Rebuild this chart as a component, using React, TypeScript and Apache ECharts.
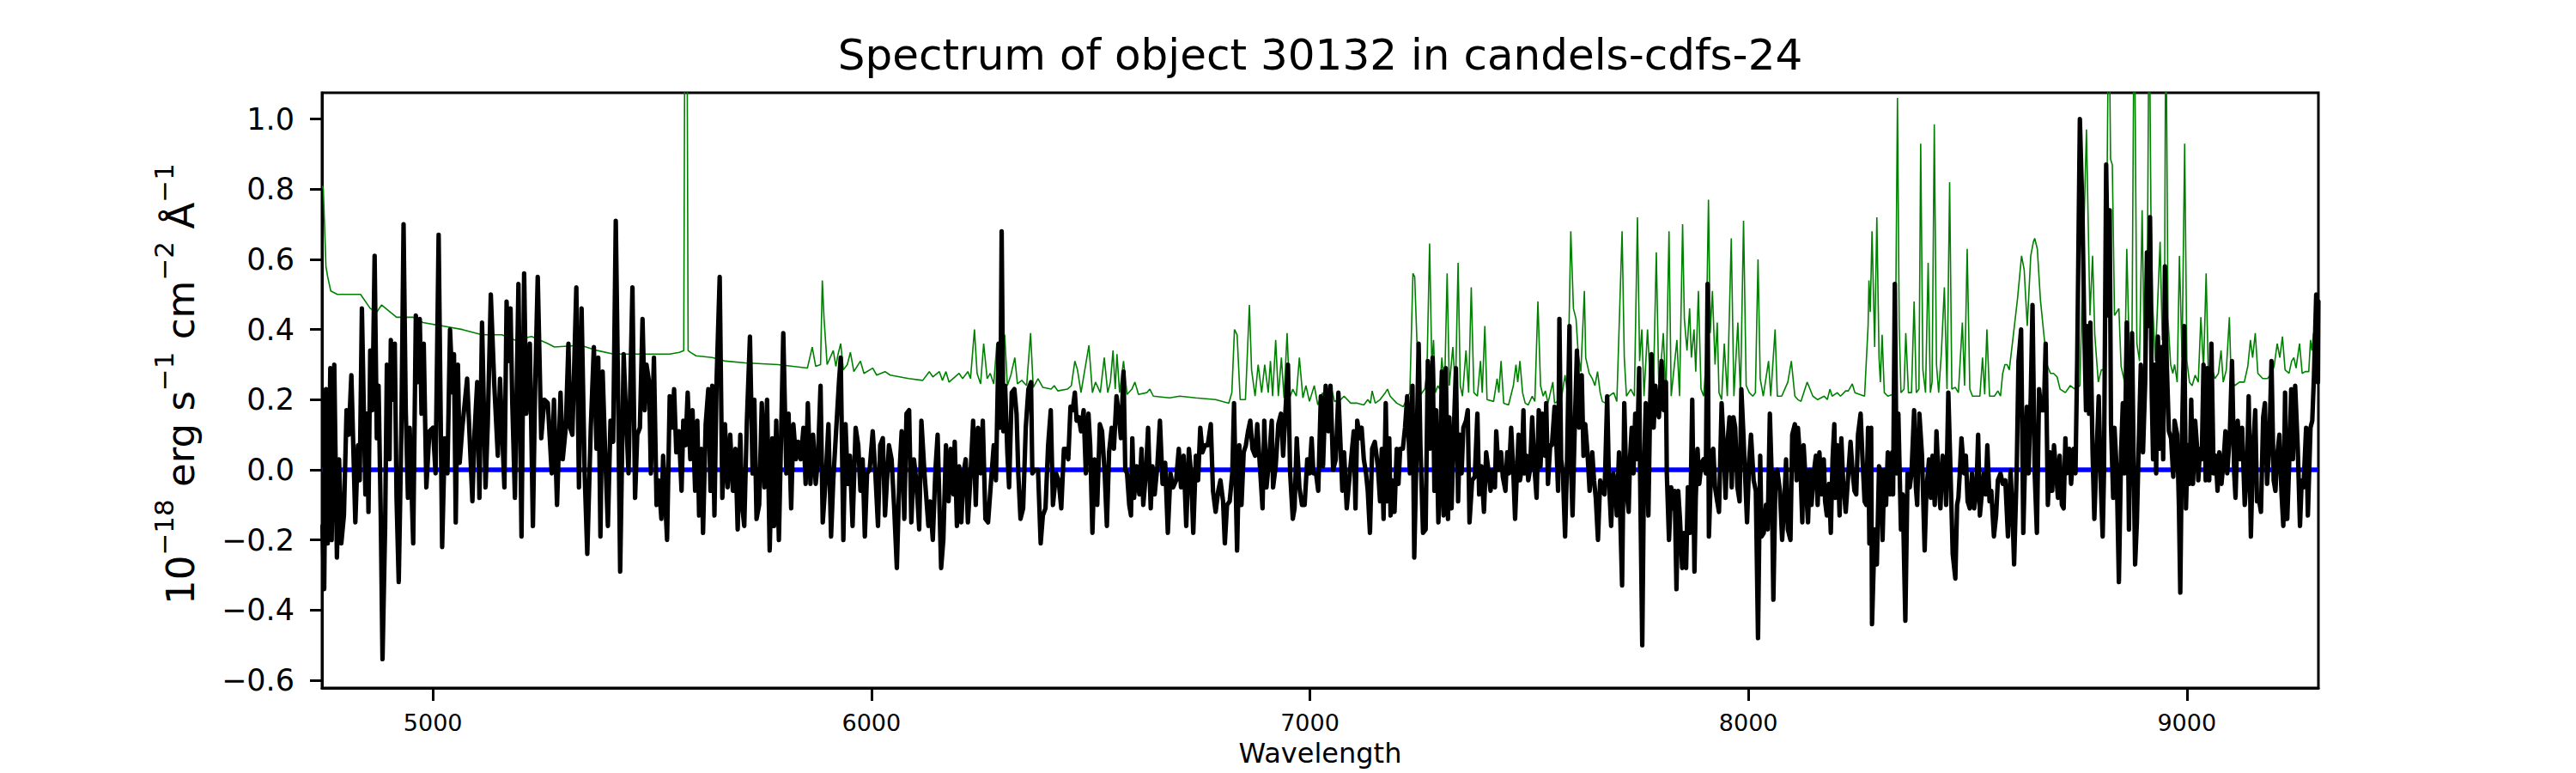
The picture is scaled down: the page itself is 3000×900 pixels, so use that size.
import React, { useEffect, useRef } from "react";
import * as echarts from "echarts";

const TITLE = "Spectrum of object 30132 in candels-cdfs-24";
const X_LABEL = "Wavelength";
const X_MIN = 4747;
const X_MAX = 9300;
const Y_MIN = -0.622;
const Y_MAX = 1.075;
const xTicks = [5000, 6000, 7000, 8000, 9000];
const yTicks = [-0.6, -0.4, -0.2, 0, 0.2, 0.4, 0.6, 0.8, 1.0];

// observed spectrum (black), [wavelength, flux]
const specA: [number, number][] = [[4748,-0.16],[4752,-0.34],[4756,0.23],[4760,-0.21],[4766,0.29],[4769,-0.20],[4775,0.30],[4781,-0.25],[4786,0.03],[4791,-0.21],[4797,-0.13],[4803,0.17],[4808,0.10],[4814,0.27],[4823,-0.15],[4829,0.07],[4833,-0.03],[4838,0.46],[4846,-0.07],[4850,0.16],[4853,-0.12],[4857,0.34],[4862,0.17],[4867,0.61],[4872,0.09],[4876,0.24],[4881,-0.13],[4885,-0.54],[4891,-0.16],[4895,0.30],[4901,0.03],[4904,0.37],[4908,0.20],[4913,0.36],[4917,-0.08],[4922,-0.32],[4928,0.11],[4933,0.70],[4938,0.17],[4943,-0.08],[4947,0.12],[4955,-0.21],[4961,0.44],[4966,0.25],[4970,0.43],[4974,0.16],[4979,0.36],[4985,-0.05],[4992,0.11],[5000,0.12],[5006,-0.01],[5013,0.67],[5021,-0.22],[5027,0.09],[5033,-0.01],[5039,0.40],[5045,0.22],[5048,0.33],[5052,-0.15],[5057,0.30],[5061,0.02],[5067,0.12],[5078,0.26],[5090,-0.09],[5095,0.11],[5101,0.25],[5106,-0.08],[5112,0.42],[5120,-0.05],[5125,0.13],[5132,0.50],[5140,0.24],[5148,0.04],[5153,0.26],[5163,-0.05],[5168,0.48],[5172,0.31],[5177,0.46],[5181,0.19],[5187,-0.08],[5195,0.53],[5202,-0.19],[5208,0.56],[5213,0.16],[5221,0.36],[5228,-0.16],[5233,0.23],[5239,0.55],[5247,0.09],[5254,0.20],[5262,0.19],[5271,-0.01],[5276,0.20],[5283,-0.10],[5291,0.22],[5296,0.03],[5303,0.12],[5309,0.36],[5313,0.12],[5318,0.10],[5327,0.52],[5333,-0.05],[5339,0.46],[5346,-0.01],[5352,-0.24],[5360,0.12],[5367,0.35],[5373,0.06],[5377,0.32],[5382,-0.19],[5387,0.28],[5393,0.04],[5399,-0.16],[5405,0.14],[5411,0.08],[5417,0.71],[5422,0.25],[5427,-0.29],[5435,0.33],[5438,0.23],[5446,-0.01],[5455,0.52],[5461,-0.08],[5466,0.10],[5472,0.12],[5478,0.43],[5483,0.17],[5487,0.30],[5493,0.25],[5497,-0.01],[5504,0.32],[5510,-0.10],[5515,-0.03],[5521,-0.14],[5525,0.04],[5528,-0.04],[5534,-0.20],[5540,0.21],[5546,0.12],[5550,0.23],[5555,0.05],[5561,0.11],[5567,-0.06],[5571,0.14],[5576,0.07],[5581,0.22],[5587,0.03],[5592,0.17],[5598,-0.06],[5603,0.14],[5607,-0.13],[5612,0.06],[5616,-0.18],[5622,0.13],[5628,0.23],[5633,-0.06],[5637,0.24],[5642,-0.13],[5647,0.26],[5654,0.55],[5660,-0.08],[5666,0.13],[5672,-0.05],[5678,0.10],[5684,-0.06],[5690,0.06],[5695,-0.17],[5701,0.10],[5705,-0.10],[5710,-0.16],[5716,0.14],[5723,0.38],[5729,-0.01],[5733,0.20],[5738,-0.14],[5744,-0.10],[5750,0.19],[5756,-0.05],[5762,0.20],[5768,-0.23],[5774,0.09],[5778,-0.16],[5783,0.14],[5789,-0.20],[5799,0.39],[5806,-0.01],[5811,0.16],[5817,-0.11],[5822,0.13],[5828,0.03],[5833,0.08],[5839,0.03],[5845,0.12],[5850,-0.04],[5855,0.19],[5861,-0.04],[5867,0.10],[5873,-0.04],[5878,0.03],[5884,0.24],[5889,-0.15],[5895,-0.04],[5902,0.13],[5908,-0.19]];

const specB: [number, number][] = [[5913,-0.03],[5919,0.10],[5926,0.25],[5930,0.32],[5936,-0.20],[5941,0.13],[5946,-0.04],[5951,0.04],[5957,-0.16],[5964,0.12],[5970,0.07],[5975,-0.06],[5980,0.03],[5985,-0.19],[5990,-0.01],[5996,0.00],[6003,0.11],[6009,-0.01],[6015,-0.16],[6020,0.07],[6026,0.09],[6031,-0.13],[6040,0.07],[6046,0.03],[6052,-0.11],[6058,-0.28],[6064,-0.01],[6069,0.11],[6075,-0.14],[6080,0.16],[6086,0.17],[6091,-0.15],[6097,0.03],[6103,-0.04],[6109,-0.17],[6114,0.14],[6121,-0.01],[6130,-0.16],[6134,-0.09],[6140,-0.20],[6146,0.00],[6151,0.10],[6159,-0.28],[6164,-0.20],[6170,0.07],[6176,-0.09],[6181,0.06],[6187,-0.07],[6190,0.08],[6195,-0.16],[6200,0.01],[6205,-0.15],[6210,-0.01],[6215,0.03],[6220,-0.15],[6225,-0.04],[6232,0.14],[6238,-0.10],[6243,0.12],[6249,-0.01],[6254,0.14],[6260,-0.14],[6266,-0.15],[6273,-0.03],[6279,0.07],[6284,-0.03],[6290,0.36],[6294,0.12],[6297,0.68],[6301,0.11],[6305,0.24],[6310,0.05],[6314,-0.05],[6320,0.22],[6326,0.23],[6331,0.16],[6335,-0.01],[6340,-0.14],[6346,-0.11],[6352,0.12],[6358,0.23],[6364,0.25],[6367,-0.01],[6373,0.00],[6380,0.00],[6386,-0.21],[6391,-0.13],[6397,-0.11],[6403,0.07],[6409,0.17],[6414,-0.10],[6421,-0.01],[6427,-0.03],[6433,-0.11],[6439,0.06],[6444,0.06],[6449,0.03],[6454,0.18],[6459,0.17],[6464,0.22],[6468,0.14],[6473,0.15],[6478,0.11],[6484,0.17],[6489,-0.01],[6495,0.16],[6499,0.07],[6504,-0.18],[6509,0.03],[6515,-0.10],[6521,0.13],[6526,0.11],[6532,-0.01],[6537,-0.16],[6542,0.05],[6548,0.12],[6553,0.06],[6559,0.21],[6564,0.16],[6569,0.09],[6575,0.28],[6579,0.00],[6583,-0.01],[6588,-0.10],[6592,-0.13],[6595,0.09],[6599,-0.08],[6605,0.01],[6611,-0.07],[6616,0.06],[6620,-0.10],[6626,-0.01],[6631,0.12],[6637,-0.11],[6641,0.01],[6646,-0.07],[6652,0.01],[6658,0.14],[6664,-0.04],[6670,0.02],[6676,-0.18],[6682,-0.01],[6688,-0.05],[6695,-0.03],[6701,0.06],[6706,-0.05],[6712,0.04],[6718,-0.16],[6724,0.06],[6729,-0.01],[6734,-0.18],[6740,0.04],[6745,-0.03],[6750,0.12],[6755,0.05],[6761,0.07],[6767,0.07],[6774,0.13],[6779,-0.06],[6785,-0.12],[6791,-0.06],[6796,-0.03],[6802,-0.09],[6806,-0.21],[6811,-0.10],[6817,-0.09],[6823,-0.01],[6827,0.19],[6830,0.00],[6834,-0.23],[6839,0.07],[6844,-0.10],[6849,0.05],[6854,0.07],[6859,0.11],[6864,0.14],[6869,0.06],[6875,0.04],[6880,0.13],[6886,0.01],[6892,-0.11],[6896,0.14],[6901,-0.05],[6907,0.03],[6913,0.14],[6916,-0.05],[6922,0.01],[6928,0.13],[6934,0.16],[6939,0.04],[6944,0.16],[6950,0.30],[6955,-0.01],[6961,-0.14],[6965,-0.11],[6970,0.09],[6976,-0.05],[6982,-0.10],[6988,-0.10],[6994,0.03],[6999,-0.01],[7004,0.09],[7008,-0.01],[7014,-0.01],[7019,-0.06],[7025,0.21],[7030,0.01],[7036,0.24],[7042,0.11],[7047,0.24],[7053,0.00],[7059,0.03],[7065,0.22]];

const specC: [number, number][] = [[7074,-0.06],[7078,0.05],[7084,-0.11],[7089,-0.04],[7094,0.03],[7100,0.11],[7104,-0.11],[7108,0.14],[7114,0.09],[7118,0.12],[7123,0.03],[7128,-0.01],[7132,-0.06],[7137,-0.18],[7142,0.06],[7148,0.08],[7155,0.01],[7160,-0.09],[7164,0.06],[7168,-0.14],[7173,0.19],[7177,-0.09],[7181,0.09],[7184,-0.13],[7188,-0.03],[7193,-0.12],[7198,0.06],[7202,-0.04],[7206,0.06],[7212,0.06],[7217,0.12],[7222,0.21],[7228,-0.01],[7234,0.24],[7238,-0.25],[7243,0.04],[7248,0.36],[7252,0.07],[7258,-0.18],[7264,-0.17],[7269,0.31],[7274,0.06],[7280,0.32],[7284,-0.06],[7288,0.17],[7293,-0.15],[7296,-0.06],[7301,0.28],[7305,-0.13],[7310,0.29],[7315,-0.14],[7318,0.15],[7323,-0.11],[7328,0.10],[7333,0.29],[7338,-0.09],[7342,0.10],[7346,-0.01],[7350,0.12],[7356,0.14],[7360,0.17],[7364,-0.15],[7370,-0.03],[7376,-0.02],[7382,0.16],[7386,-0.07],[7391,0.01],[7397,-0.12],[7402,0.05],[7406,0.01],[7412,-0.06],[7417,0.00],[7422,-0.05],[7425,0.11],[7430,0.00],[7436,0.05],[7440,-0.02],[7446,-0.06],[7450,0.05],[7454,-0.01],[7459,0.12],[7464,-0.01],[7468,-0.14],[7472,-0.01],[7476,0.10],[7479,-0.03],[7483,0.00],[7487,0.17],[7490,-0.01],[7494,0.04],[7498,-0.03],[7502,0.00],[7507,0.15],[7512,0.01],[7517,-0.08],[7522,0.17],[7526,0.01],[7530,0.16],[7536,0.04],[7539,0.19],[7543,-0.04],[7548,0.07],[7552,0.07],[7558,0.18],[7562,0.08],[7566,-0.06],[7569,0.43],[7573,0.03],[7577,-0.01],[7582,-0.19],[7586,0.00],[7592,0.41],[7596,-0.01],[7599,-0.13],[7604,0.12],[7609,0.34],[7614,0.12],[7620,0.27],[7624,0.04],[7628,0.13],[7633,0.05],[7638,-0.06],[7644,0.05],[7648,-0.03],[7652,-0.08],[7657,-0.20],[7662,-0.03],[7667,-0.06],[7672,-0.07],[7678,0.21],[7682,-0.03],[7687,-0.16],[7692,-0.01],[7697,-0.05],[7700,-0.13],[7705,0.05],[7708,-0.14],[7712,-0.33],[7717,0.19],[7722,-0.06],[7727,-0.12],[7730,0.03],[7734,0.12],[7738,-0.01],[7742,0.16],[7746,0.03],[7751,0.29],[7753,-0.01],[7758,-0.50],[7762,0.01],[7766,0.19],[7772,-0.13],[7776,0.19],[7779,0.33],[7784,0.12],[7788,0.24],[7792,0.17],[7796,0.15],[7802,0.31],[7807,0.17],[7812,0.25],[7814,-0.01],[7819,-0.20],[7824,-0.05],[7828,-0.11],[7832,-0.06],[7836,-0.34],[7840,-0.06],[7844,-0.14],[7849,-0.28],[7853,-0.18],[7858,-0.28],[7862,-0.05],[7867,-0.18],[7872,0.20],[7877,-0.29],[7880,-0.08],[7884,0.06],[7888,-0.04],[7893,0.02],[7898,0.03],[7903,-0.01],[7907,0.53],[7910,-0.19],[7916,0.05],[7920,0.06],[7924,-0.05],[7929,-0.09],[7933,-0.12],[7939,0.19],[7944,0.06],[7948,-0.08],[7952,0.07],[7957,0.15],[7962,-0.05],[7966,0.15],[7970,0.12],[7975,-0.05],[7980,-0.09],[7984,0.23],[7988,0.12],[7993,-0.03],[7997,-0.15],[8002,0.03],[8006,0.10],[8012,-0.03],[8017,-0.06],[8022,-0.48],[8027,0.04],[8030,-0.19],[8035,-0.18],[8040,-0.10],[8044,-0.17],[8049,0.16],[8053,-0.01],[8057,-0.37],[8062,-0.01],[8066,0.00],[8072,-0.06],[8077,-0.20],[8082,-0.09],[8086,0.03],[8090,-0.17],[8096,-0.20],[8100,0.10],[8106,0.13],[8110,-0.03],[8113,0.12],[8118,0.03],[8123,-0.15],[8126,0.07],[8131,-0.04],[8136,-0.15],[8140,0.00],[8144,-0.10],[8149,-0.01],[8154,0.04],[8158,-0.10],[8162,0.05],[8167,-0.07],[8172,0.03],[8175,-0.09],[8179,-0.13],[8184,-0.04],[8188,-0.18],[8192,0.03],[8196,0.13],[8199,-0.08],[8203,0.07],[8208,-0.13],[8212,0.09],[8216,-0.03],[8222,-0.12]];

const specD: [number, number][] = [[8228,-0.01],[8233,0.08],[8238,-0.01],[8242,-0.06],[8246,-0.07],[8250,0.10],[8256,0.16],[8260,0.04],[8265,-0.09],[8269,-0.10],[8273,0.12],[8276,-0.21],[8280,0.12],[8282,-0.44],[8288,-0.17],[8293,-0.27],[8298,0.01],[8303,-0.01],[8306,-0.20],[8310,0.00],[8314,-0.10],[8318,0.05],[8323,-0.07],[8328,0.05],[8330,-0.07],[8334,0.53],[8338,-0.01],[8342,0.16],[8348,-0.17],[8352,-0.07],[8358,-0.43],[8363,-0.01],[8368,-0.05],[8372,-0.01],[8378,0.17],[8382,-0.05],[8385,-0.10],[8390,0.16],[8396,0.04],[8402,-0.23],[8406,-0.06],[8412,0.03],[8416,-0.08],[8420,0.04],[8425,-0.10],[8429,0.11],[8434,-0.04],[8438,-0.11],[8443,0.04],[8448,0.00],[8451,-0.10],[8456,0.22],[8460,0.04],[8466,-0.24],[8472,-0.31],[8476,-0.10],[8479,-0.08],[8483,0.01],[8486,0.09],[8492,-0.01],[8496,0.04],[8500,-0.09],[8505,-0.11],[8510,-0.01],[8515,-0.11],[8520,-0.06],[8524,0.10],[8528,-0.13],[8533,-0.06],[8537,-0.01],[8541,-0.07],[8545,0.07],[8550,-0.09],[8554,-0.06],[8560,-0.19],[8565,-0.13],[8569,-0.03],[8575,-0.01],[8580,-0.04],[8586,-0.03],[8592,-0.19],[8598,0.00],[8603,-0.15],[8606,-0.27],[8612,0.00],[8616,0.31],[8622,0.40],[8627,-0.18],[8631,0.03],[8635,0.18],[8639,-0.01],[8644,0.21],[8648,0.47],[8653,-0.01],[8658,-0.18],[8663,0.23],[8668,0.17],[8674,0.17],[8678,0.36],[8683,-0.10],[8688,0.05],[8693,-0.06],[8697,0.07],[8702,-0.01],[8706,-0.08],[8710,0.04],[8715,-0.10],[8719,-0.11],[8723,0.09],[8726,-0.01],[8732,0.06],[8736,-0.04],[8742,0.06],[8746,-0.01],[8750,0.32],[8756,1.00],[8762,0.73],[8766,0.41],[8770,0.17],[8773,0.41],[8777,0.16],[8780,0.42],[8785,0.05],[8789,-0.14],[8794,0.04],[8799,0.21],[8804,-0.05],[8808,-0.19],[8811,-0.01],[8816,0.87],[8821,0.44],[8824,0.74],[8827,0.13],[8832,-0.08],[8835,0.12],[8840,0.00],[8845,-0.32],[8850,0.05],[8854,0.19],[8858,-0.01],[8863,0.42],[8868,-0.17],[8871,0.15],[8875,0.39],[8879,-0.01],[8882,-0.27],[8886,-0.15],[8890,0.06],[8895,0.30],[8900,0.05],[8905,0.25],[8909,0.62],[8912,0.41],[8916,0.72],[8920,0.21],[8923,0.03],[8927,0.30],[8930,-0.01],[8934,0.38],[8938,0.06],[8942,0.35],[8946,0.03],[8950,0.58],[8954,0.31],[8959,0.11],[8964,0.09],[8969,-0.02],[8972,0.14],[8978,0.10],[8982,-0.11],[8985,-0.35],[8989,0.10],[8994,0.41],[8998,-0.11],[9002,0.07],[9006,-0.04],[9010,0.20],[9014,-0.04],[9019,0.14],[9023,0.07],[9026,-0.03],[9030,0.06],[9034,0.03],[9038,0.30],[9043,-0.03],[9047,0.29],[9051,-0.03],[9056,0.36],[9061,-0.01],[9066,0.04],[9070,-0.06],[9074,0.05],[9079,-0.04],[9084,0.03],[9088,0.11],[9092,-0.01],[9098,0.10],[9103,0.31],[9108,-0.01],[9111,-0.08],[9116,0.14],[9121,0.03],[9126,0.12],[9132,-0.10],[9137,-0.01],[9141,0.21],[9146,-0.19],[9151,0.06],[9156,0.17],[9160,-0.09],[9164,-0.08],[9169,-0.12],[9174,0.15],[9178,0.19],[9183,-0.04],[9188,0.07],[9193,0.31],[9198,-0.03],[9202,-0.06],[9206,0.04],[9211,0.10],[9216,-0.07],[9220,-0.16],[9224,0.22],[9229,-0.14],[9234,0.04],[9238,0.23],[9242,0.03],[9247,0.24],[9253,0.06],[9258,-0.16],[9262,-0.03],[9266,-0.05],[9272,0.12],[9276,-0.13],[9282,0.12],[9286,0.14],[9290,0.27],[9295,0.50],[9299,0.25],[9300,0.48]];

// noise / sky spectrum (green), [wavelength, flux]
const skyA: [number, number][] = [[4748,0.81],[4750,0.80],[4756,0.58],[4760,0.55],[4767,0.51],[4782,0.50],[4805,0.50],[4835,0.50],[4857,0.46],[4872,0.45],[4883,0.47],[4917,0.435],[4955,0.435],[4977,0.42],[5022,0.41],[5067,0.40],[5112,0.385],[5157,0.385],[5187,0.37],[5225,0.38],[5262,0.36],[5277,0.35],[5337,0.355],[5375,0.34],[5412,0.33],[5487,0.33],[5540,0.33],[5562,0.335],[5572,0.34],[5575,1.5],[5579,1.5],[5582,0.34],[5587,0.335],[5600,0.325],[5637,0.32],[5667,0.31],[5712,0.305],[5787,0.30],[5854,0.29],[5865,0.35],[5873,0.295],[5884,0.30],[5888,0.54],[5892,0.43],[5899,0.30]];

const skyB: [number, number][] = [[5913,0.34],[5919,0.295],[5924,0.33],[5930,0.36],[5936,0.285],[5945,0.30],[5952,0.335],[5960,0.28],[5975,0.31],[5983,0.275],[6003,0.29],[6012,0.27],[6031,0.28],[6043,0.27],[6085,0.26],[6117,0.255],[6132,0.28],[6140,0.265],[6155,0.28],[6162,0.255],[6170,0.28],[6177,0.25],[6200,0.275],[6208,0.26],[6220,0.28],[6226,0.26],[6235,0.40],[6241,0.275],[6249,0.245],[6256,0.36],[6264,0.26],[6271,0.275],[6279,0.245],[6286,0.36],[6292,0.25],[6298,0.30],[6304,0.385],[6310,0.24],[6318,0.27],[6327,0.32],[6333,0.245],[6343,0.255],[6354,0.24],[6363,0.39],[6369,0.235],[6380,0.26],[6391,0.235],[6410,0.23],[6417,0.24],[6425,0.225],[6447,0.23],[6456,0.24],[6464,0.31],[6470,0.285],[6478,0.22],[6496,0.355],[6504,0.22],[6511,0.25],[6522,0.22],[6531,0.32],[6539,0.22],[6545,0.25],[6551,0.34],[6556,0.23],[6560,0.33],[6566,0.22],[6575,0.31],[6583,0.215],[6594,0.23],[6601,0.25],[6609,0.215],[6628,0.22],[6635,0.23],[6643,0.21],[6680,0.205],[6703,0.21],[6740,0.205],[6785,0.20],[6815,0.19],[6822,0.22],[6828,0.40],[6834,0.385],[6841,0.20],[6853,0.20],[6862,0.47],[6867,0.285],[6875,0.21],[6882,0.30],[6890,0.22],[6897,0.30],[6905,0.22],[6910,0.31],[6915,0.21],[6922,0.37],[6928,0.21],[6935,0.32],[6941,0.205],[6948,0.39],[6954,0.205],[6961,0.23],[6969,0.21],[6976,0.32],[6984,0.205],[6991,0.24],[6999,0.195],[7010,0.24],[7018,0.185],[7029,0.22],[7036,0.19],[7048,0.24]];

const skyC: [number, number][] = [[7056,0.195],[7070,0.20],[7078,0.21],[7093,0.19],[7108,0.19],[7123,0.185],[7132,0.20],[7138,0.19],[7142,0.225],[7149,0.19],[7160,0.20],[7172,0.22],[7177,0.23],[7183,0.21],[7198,0.19],[7213,0.18],[7228,0.22],[7235,0.56],[7239,0.55],[7244,0.37],[7250,0.21],[7262,0.23],[7267,0.285],[7273,0.645],[7278,0.30],[7282,0.37],[7286,0.22],[7292,0.24],[7296,0.23],[7301,0.32],[7307,0.22],[7313,0.56],[7318,0.24],[7326,0.35],[7332,0.23],[7338,0.59],[7343,0.24],[7348,0.21],[7356,0.34],[7362,0.22],[7368,0.52],[7374,0.22],[7382,0.21],[7389,0.31],[7393,0.22],[7399,0.41],[7404,0.20],[7419,0.195],[7427,0.26],[7431,0.22],[7436,0.31],[7442,0.19],[7453,0.185],[7464,0.24],[7470,0.30],[7474,0.25],[7479,0.31],[7485,0.22],[7491,0.19],[7498,0.185],[7507,0.21],[7513,0.195],[7520,0.48],[7526,0.24],[7532,0.21],[7537,0.225],[7543,0.19],[7554,0.25],[7558,0.19],[7573,0.20],[7582,0.27],[7588,0.21],[7595,0.68],[7601,0.46],[7607,0.43],[7612,0.33],[7618,0.28],[7626,0.51],[7629,0.32],[7637,0.275],[7644,0.26],[7650,0.24],[7656,0.28],[7662,0.22],[7667,0.195],[7674,0.19],[7682,0.21],[7693,0.22],[7700,0.195],[7712,0.68],[7717,0.32],[7722,0.21],[7727,0.22],[7732,0.23],[7740,0.21],[7747,0.72],[7752,0.31],[7757,0.40],[7762,0.21],[7770,0.40],[7777,0.23],[7783,0.21],[7790,0.62],[7796,0.22],[7806,0.39],[7812,0.21],[7819,0.68],[7824,0.21],[7837,0.37],[7843,0.21],[7850,0.70],[7854,0.43],[7860,0.34],[7866,0.46],[7870,0.32],[7876,0.40],[7880,0.28],[7886,0.51],[7892,0.23],[7898,0.21],[7903,0.30],[7909,0.77],[7913,0.39],[7918,0.51],[7924,0.30],[7929,0.42],[7933,0.22],[7939,0.20],[7945,0.36],[7952,0.21],[7961,0.66],[7967,0.21],[7976,0.42],[7982,0.21],[7989,0.71],[7995,0.24],[8002,0.22],[8010,0.21],[8016,0.22],[8022,0.60],[8027,0.26],[8034,0.21],[8046,0.31],[8051,0.21],[8061,0.40],[8066,0.21],[8076,0.21],[8083,0.23],[8090,0.25],[8098,0.31],[8106,0.21],[8113,0.20],[8120,0.195],[8134,0.25],[8139,0.235],[8147,0.21],[8158,0.20],[8173,0.21],[8180,0.20],[8186,0.23],[8191,0.21],[8203,0.22],[8210,0.21],[8222,0.225]];

const skyD: [number, number][] = [[8228,0.225],[8237,0.245],[8243,0.22],[8254,0.215],[8265,0.21],[8273,0.41],[8275,0.54],[8278,0.45],[8282,0.68],[8288,0.35],[8293,0.72],[8298,0.32],[8301,0.25],[8305,0.385],[8310,0.22],[8318,0.21],[8329,0.215],[8335,0.30],[8340,1.06],[8344,0.41],[8348,0.22],[8355,0.23],[8359,0.39],[8365,0.22],[8372,0.22],[8378,0.48],[8383,0.22],[8389,0.23],[8393,0.93],[8398,0.285],[8404,0.22],[8410,0.59],[8415,0.22],[8419,0.25],[8424,0.985],[8429,0.30],[8434,0.22],[8440,0.33],[8447,0.52],[8453,0.23],[8459,0.82],[8464,0.23],[8472,0.235],[8479,0.22],[8488,0.42],[8493,0.24],[8499,0.63],[8505,0.23],[8511,0.21],[8528,0.21],[8534,0.32],[8539,0.215],[8544,0.40],[8550,0.21],[8561,0.21],[8569,0.225],[8575,0.21],[8580,0.275],[8585,0.30],[8590,0.30],[8595,0.285],[8603,0.37],[8614,0.49],[8623,0.61],[8629,0.57],[8636,0.41],[8644,0.61],[8650,0.65],[8653,0.66],[8659,0.63],[8666,0.485],[8674,0.385],[8681,0.30],[8689,0.275],[8696,0.275],[8704,0.265],[8711,0.23],[8723,0.22],[8734,0.24],[8745,0.23],[8756,0.24],[8771,0.97],[8779,0.44],[8785,0.61],[8790,0.385],[8798,0.25],[8805,0.285],[8810,0.285],[8816,0.52],[8822,1.4],[8826,0.885],[8830,0.87],[8835,0.44],[8845,0.46],[8850,0.295],[8858,0.25],[8863,0.63],[8869,0.32],[8875,0.40],[8880,1.4],[8886,0.36],[8892,0.31],[8898,0.74],[8903,0.32],[8909,0.37],[8914,1.4],[8918,0.74],[8922,0.47],[8928,0.31],[8939,0.65],[8944,0.37],[8949,0.41],[8952,1.4],[8957,0.43],[8963,0.30],[8968,0.275],[8972,0.30],[8978,0.25],[8983,0.61],[8989,0.32],[8995,0.93],[9000,0.31],[9006,0.25],[9012,0.24],[9019,0.27],[9026,0.25],[9032,0.435],[9038,0.285],[9044,0.56],[9049,0.27],[9056,0.295],[9064,0.26],[9072,0.275],[9078,0.34],[9083,0.25],[9090,0.285],[9097,0.435],[9101,0.26],[9109,0.24],[9120,0.25],[9131,0.25],[9139,0.295],[9145,0.37],[9150,0.32],[9156,0.39],[9162,0.275],[9173,0.26],[9184,0.26],[9193,0.275],[9199,0.295],[9206,0.36],[9212,0.32],[9218,0.38],[9224,0.285],[9233,0.275],[9239,0.31],[9244,0.32],[9249,0.29],[9257,0.36],[9263,0.275],[9270,0.28],[9278,0.28],[9282,0.37],[9285,0.34],[9289,0.39],[9295,0.30],[9300,0.30]];

// zero level (blue)
const zeroLevel: [number, number][] = [[X_MIN, 0], [X_MAX, 0]];

const FONT = "'DejaVu Sans', 'Noto Sans', sans-serif";

function fmtY(v: number): string {
  const s = Math.abs(v).toFixed(1);
  return v < -1e-9 ? "\u2212" + s : s;
}

export default function App() {
  const ref = useRef<HTMLDivElement>(null);
  useEffect(() => {
    if (!ref.current) return;
    const chart = echarts.init(ref.current, undefined, { renderer: "svg" });
    const spectrum = [...specA, ...specB, ...specC, ...specD];
    const sky = [...skyA, ...skyB, ...skyC, ...skyD];
    const option: any = {
      animation: false,
      backgroundColor: "#ffffff",
      grid: {
        left: 375,
        top: 108,
        right: 300,
        bottom: 99,
        show: true,
        borderColor: "#000",
        borderWidth: 3,
        backgroundColor: "transparent",
      },
      xAxis: {
        type: "value",
        min: X_MIN,
        max: X_MAX,
        axisLine: { show: true, onZero: false, lineStyle: { color: "#000", width: 3 } },
        axisTick: {
          show: true,
          inside: false,
          length: 15,
          customValues: xTicks,
          lineStyle: { color: "#000", width: 3 },
        },
        axisLabel: {
          show: true,
          customValues: xTicks,
          margin: 27,
          fontSize: 27,
          fontFamily: FONT,
          color: "#000",
          formatter: (v: number) => String(Math.round(v)),
        },
        splitLine: { show: false },
      },
      yAxis: {
        type: "value",
        min: Y_MIN,
        max: Y_MAX,
        axisLine: { show: true, lineStyle: { color: "#000", width: 3 } },
        axisTick: {
          show: true,
          inside: false,
          length: 14,
          customValues: yTicks,
          lineStyle: { color: "#000", width: 3 },
        },
        axisLabel: {
          show: true,
          customValues: yTicks,
          margin: 32,
          fontSize: 35,
          fontFamily: FONT,
          color: "#000",
          formatter: (v: number) => fmtY(v),
        },
        splitLine: { show: false },
      },
      graphic: [
        {
          type: "text",
          x: 1537.5,
          y: 64,
          style: {
            text: TITLE,
            fontSize: 50,
            fontFamily: FONT,
            fill: "#000",
            align: "center",
            verticalAlign: "middle",
          },
        },
        {
          type: "text",
          x: 1537.5,
          y: 877,
          style: {
            text: X_LABEL,
            fontSize: 32,
            fontFamily: FONT,
            fill: "#000",
            align: "center",
            verticalAlign: "middle",
          },
        },
        {
          type: "text",
          x: 210,
          y: 447,
          rotation: Math.PI / 2,
          style: {
            text: "{m|10}{s|\u221218}{m| erg s}{s|\u22121}{m| cm}{s|\u22122}{m| \u00C5}{s|\u22121}",
            align: "center",
            verticalAlign: "middle",
            fill: "#000",
            rich: {
              m: { fontSize: 45, fontFamily: FONT, lineHeight: 70, verticalAlign: "middle", fill: "#000" },
              s: { fontSize: 31, fontFamily: FONT, lineHeight: 20, verticalAlign: "top", fill: "#000" },
            },
          },
        },
      ],
      series: [
        {
          name: "sky",
          type: "line",
          data: sky,
          showSymbol: false,
          symbol: "none",
          clip: true,
          lineStyle: { color: "#008000", width: 1.6 },
          z: 2,
        },
        {
          name: "zero",
          type: "line",
          data: zeroLevel,
          showSymbol: false,
          symbol: "none",
          lineStyle: { color: "#0000ff", width: 5.5 },
          z: 3,
        },
        {
          name: "spectrum",
          type: "line",
          data: spectrum,
          showSymbol: false,
          symbol: "none",
          clip: true,
          lineStyle: { color: "#000000", width: 5.2, join: "round", cap: "round" },
          z: 4,
        },
      ],
    };
    chart.setOption(option);
    return () => chart.dispose();
  }, []);
  return (
    <div
      ref={ref}
      style={{ position: "absolute", left: 0, top: 0, width: 3000, height: 900 }}
    />
  );
}
